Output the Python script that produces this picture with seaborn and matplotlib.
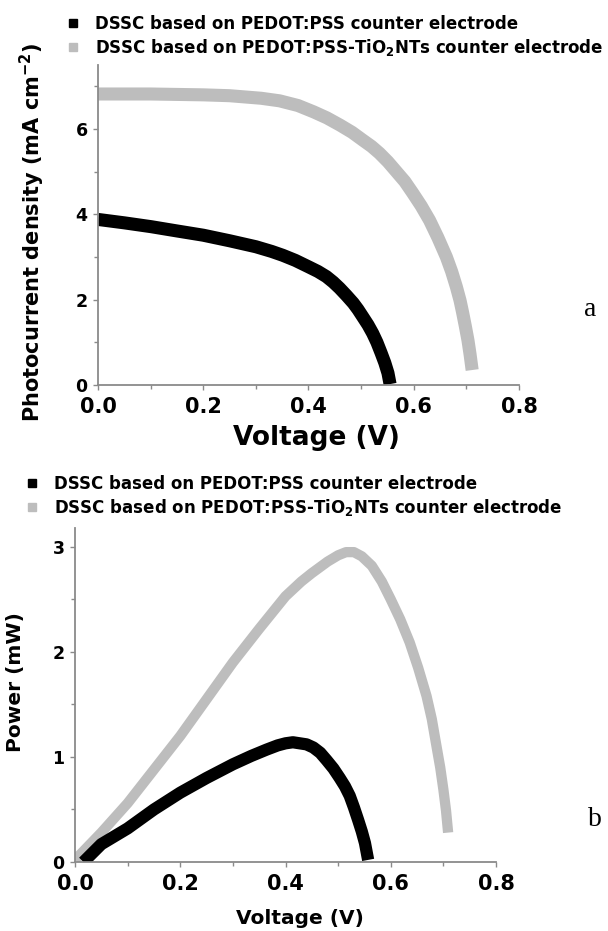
import matplotlib
matplotlib.use("Agg")
import matplotlib.pyplot as plt
import seaborn as sns
import pandas as pd
from matplotlib.lines import Line2D
from matplotlib.ticker import AutoMinorLocator, FormatStrFormatter

sns.set_style("ticks")
plt.rcParams['font.family'] = ['DejaVu Sans']
plt.rcParams['font.weight'] = 'bold'
plt.rcParams['mathtext.fontset'] = 'dejavusans'
plt.rcParams['text.color'] = 'black'
plt.rcParams['axes.labelcolor'] = 'black'
plt.rcParams['xtick.labelcolor'] = 'black'
plt.rcParams['ytick.labelcolor'] = 'black'

# ---------------- data ----------------
labels = ["DSSC based on PEDOT:PSS counter electrode",
          "DSSC based on PEDOT:PSS-TiO$_\\mathbf{2}$NTs counter electrode"]

# (a) J-V curves
v_jv_pedot = [0.0, 0.05, 0.101, 0.15, 0.2, 0.25, 0.3, 0.33, 0.351, 0.375, 0.4, 0.418,
              0.434, 0.447, 0.459, 0.472, 0.485, 0.494, 0.503, 0.513, 0.522, 0.53,
              0.538, 0.545, 0.551, 0.555]
j_pedot = [3.88, 3.80, 3.71, 3.61, 3.51, 3.38, 3.24, 3.13, 3.04, 2.92, 2.77, 2.66,
           2.54, 2.41, 2.27, 2.10, 1.92, 1.77, 1.60, 1.41, 1.21, 1.00,
           0.75, 0.52, 0.28, 0.02]

v_jv_tio2 = [0.0, 0.1, 0.2, 0.25, 0.28, 0.31, 0.345, 0.38, 0.41, 0.435, 0.46, 0.483,
             0.503, 0.52, 0.535, 0.551, 0.567, 0.583, 0.598, 0.614, 0.63, 0.646,
             0.662, 0.672, 0.681, 0.688, 0.693, 0.698, 0.703, 0.707, 0.711]
j_tio2 = [6.82, 6.82, 6.80, 6.78, 6.75, 6.72, 6.66, 6.55, 6.40, 6.26, 6.09, 5.92,
          5.74, 5.59, 5.43, 5.23, 5.00, 4.77, 4.50, 4.20, 3.86, 3.45,
          3.00, 2.66, 2.30, 1.98, 1.69, 1.38, 1.05, 0.72, 0.35]

# (b) P-V curves
v_p_pedot = [0.016, 0.05, 0.1, 0.15, 0.2, 0.25, 0.3, 0.335, 0.364, 0.385, 0.4, 0.414,
             0.427, 0.44, 0.453, 0.466, 0.478, 0.491, 0.503, 0.513, 0.522, 0.53,
             0.538, 0.545, 0.551, 0.557]
p_pedot = [0.0, 0.17, 0.32, 0.50, 0.66, 0.80, 0.93, 1.01, 1.07, 1.11, 1.13, 1.14,
           1.13, 1.12, 1.09, 1.04, 0.97, 0.89, 0.80, 0.72, 0.63, 0.52,
           0.40, 0.29, 0.18, 0.02]

v_p_tio2 = [0.0, 0.05, 0.1, 0.15, 0.2, 0.25, 0.3, 0.35, 0.4, 0.43, 0.45, 0.48, 0.5,
            0.515, 0.53, 0.545, 0.564, 0.583, 0.6, 0.618, 0.636, 0.652, 0.668,
            0.678, 0.687, 0.694, 0.70, 0.705, 0.709]
p_tio2 = [0.02, 0.28, 0.56, 0.88, 1.20, 1.55, 1.90, 2.22, 2.53, 2.67, 2.75, 2.86, 2.92,
          2.95, 2.95, 2.91, 2.82, 2.67, 2.50, 2.31, 2.09, 1.85, 1.58,
          1.36, 1.10, 0.90, 0.69, 0.49, 0.28]

x_ticks = [0.0, 0.2, 0.4, 0.6, 0.8]
y_ticks_a = [0, 2, 4, 6]
y_ticks_b = [0, 1, 2, 3]

black = "#000000"
gray = "#bdbdbd"
spine_c = "#8a8a8a"

fig = plt.figure(figsize=(6.08, 9.31), dpi=100)
ax1 = fig.add_axes([0.1612, 0.5865, 0.6924, 0.3437])
ax2 = fig.add_axes([0.1234, 0.0741, 0.6924, 0.3588])

df_a1 = pd.DataFrame({"V": v_jv_pedot, "Y": j_pedot})
df_a2 = pd.DataFrame({"V": v_jv_tio2, "Y": j_tio2})
df_b1 = pd.DataFrame({"V": v_p_pedot, "Y": p_pedot})
df_b2 = pd.DataFrame({"V": v_p_tio2, "Y": p_tio2})

line_kw = dict(solid_capstyle="butt", solid_joinstyle="round", legend=False)
sns.lineplot(data=df_a2, x="V", y="Y", ax=ax1, color=gray, linewidth=9.4, **line_kw)
sns.lineplot(data=df_a1, x="V", y="Y", ax=ax1, color=black, linewidth=9.4, **line_kw)
sns.lineplot(data=df_b2, x="V", y="Y", ax=ax2, color=gray, linewidth=7.4, **line_kw)
sns.lineplot(data=df_b1, x="V", y="Y", ax=ax2, color=black, linewidth=8.8, **line_kw)

for ax, yt, ylim in [(ax1, y_ticks_a, (0, 7.5)), (ax2, y_ticks_b, (0, 3.18))]:
    ax.set_xlim(0, 0.8)
    ax.set_ylim(*ylim)
    ax.set_xticks(x_ticks)
    ax.set_yticks(yt)
    ax.xaxis.set_major_formatter(FormatStrFormatter('%.1f'))
    ax.xaxis.set_minor_locator(AutoMinorLocator(2))
    ax.yaxis.set_minor_locator(AutoMinorLocator(2))
    for s in ["top", "right"]:
        ax.spines[s].set_visible(False)
    for s in ["left", "bottom"]:
        ax.spines[s].set_color(spine_c)
        ax.spines[s].set_linewidth(1.3)
    ax.tick_params(which="both", direction="out", color=spine_c, width=1.0)
    ax.tick_params(which="major", length=3.5)
    ax.tick_params(which="minor", length=3.0)
    ax.tick_params(axis="x", which="major", labelsize=15, pad=5, labelcolor="black")
    ax.tick_params(axis="y", which="major", labelsize=12.5, pad=4, labelcolor="black")
    for lab in ax.get_xticklabels() + ax.get_yticklabels():
        lab.set_fontweight("bold")
    ax.patch.set_alpha(0)

ax1.set_xlabel("Voltage (V)", fontsize=19, fontweight="bold", color="black")
ax1.xaxis.set_label_coords(0.518, -0.166)
ax1.xaxis.label.set_va("center")
ax1.set_ylabel("Photocurrent density (mA cm$^{\\mathbf{-2}}$)", fontsize=15,
               fontweight="bold", color="black")
ax1.yaxis.set_label_coords(-0.157, 0.478)
ax1.yaxis.label.set_va("center")

ax2.set_xlabel("Voltage (V)", fontsize=14.5, fontweight="bold", color="black")
ax2.xaxis.set_label_coords(0.534, -0.168)
ax2.xaxis.label.set_va("center")
ax2.set_ylabel("Power (mW)", fontsize=14.5, fontweight="bold", color="black")
ax2.yaxis.set_label_coords(-0.1425, 0.539)
ax2.yaxis.label.set_va("center")

handles = [Line2D([], [], marker="s", linestyle="none", color=black, markersize=6),
           Line2D([], [], marker="s", linestyle="none", color=gray, markersize=6)]
leg_kw = dict(frameon=False, handlelength=0.6, handletextpad=1.0,
              labelspacing=0.25, borderpad=0, borderaxespad=0, loc="upper left",
              prop={"weight": "bold", "size": 12}, labelcolor="black")
fig.legend(handles, labels, bbox_to_anchor=(68 / 608, 1 - 15 / 931),
           bbox_transform=fig.transFigure, **leg_kw)
fig.legend(handles, labels, bbox_to_anchor=(27 / 608, 1 - 475 / 931),
           bbox_transform=fig.transFigure, **leg_kw)

fig.text(590 / 608, 1 - 310 / 931, "a", family="Liberation Serif", fontsize=20,
         fontweight="normal", ha="center", va="center")
fig.text(595 / 608, 1 - 820 / 931, "b", family="Liberation Serif", fontsize=20,
         fontweight="normal", ha="center", va="center")

fig.savefig("out.png", dpi=100)
